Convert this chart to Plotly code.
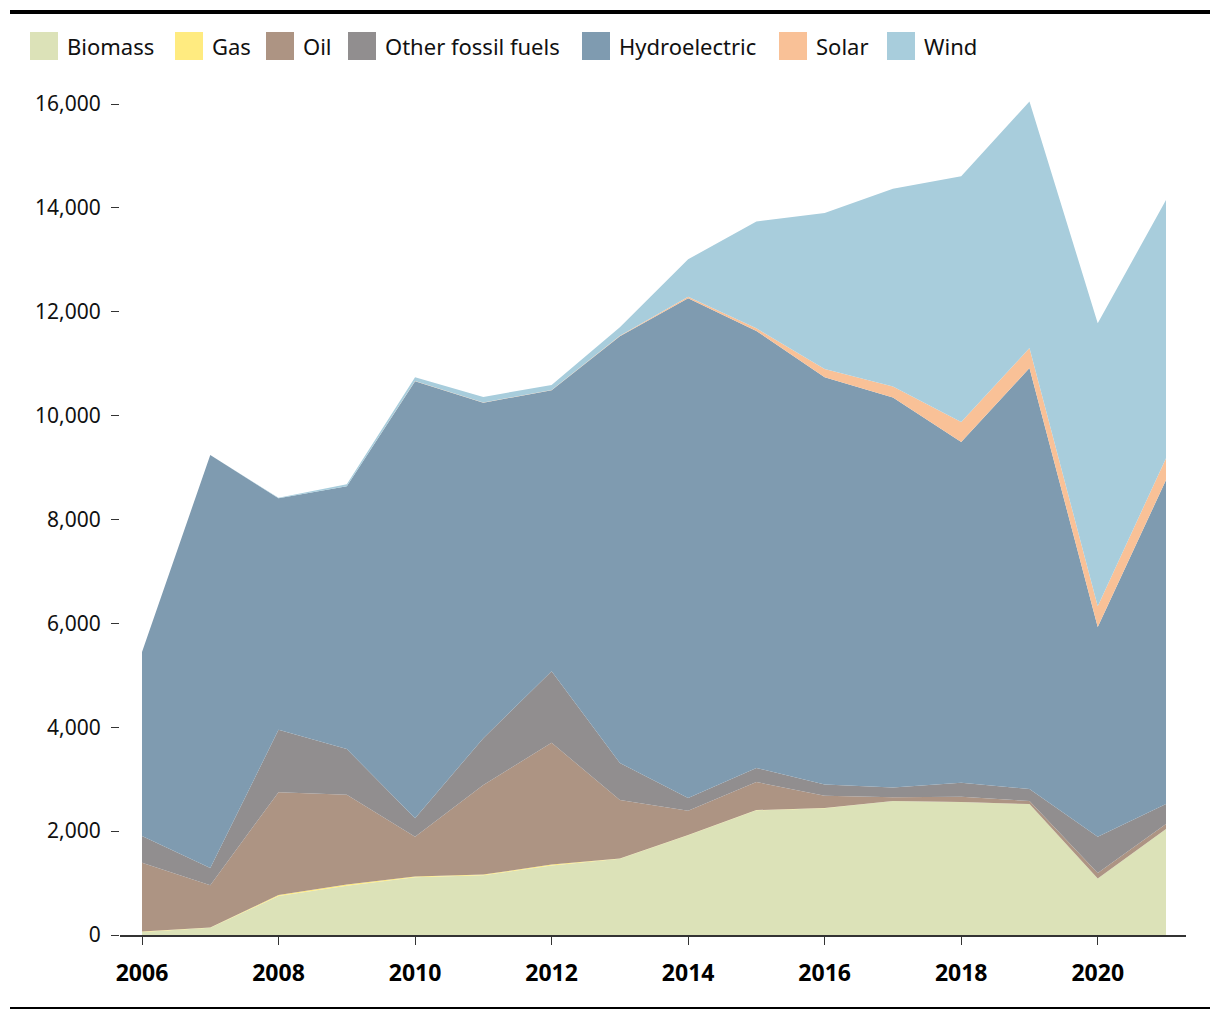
import plotly.graph_objects as go

years = list(range(2006, 2022))

biomass = [60, 140, 750, 950, 1110, 1150, 1340, 1470, 1920, 2400, 2440, 2580, 2560, 2520, 1090, 2040]
gas = [5, 5, 20, 20, 15, 15, 15, 5, 5, 5, 5, 0, 0, 0, 0, 0]
oil = [1325, 815, 1980, 1730, 765, 1725, 2345, 1125, 465, 540, 235, 70, 100, 60, 105, 95]
other_fossil = [515, 330, 1200, 880, 360, 900, 1380, 710, 250, 270, 220, 190, 270, 230, 695, 385]
hydro = [3545, 7950, 4460, 5060, 8410, 6460, 5410, 8220, 9620, 8415, 7840, 7510, 6560, 8105, 4040, 6240]
solar = [0, 0, 0, 0, 5, 5, 5, 10, 30, 50, 160, 210, 385, 385, 400, 420]
wind = [0, 0, 10, 40, 75, 105, 95, 160, 720, 2060, 3000, 3810, 4735, 4750, 5450, 4970]

series_names = ["Biomass", "Gas", "Oil", "Other fossil fuels", "Hydroelectric", "Solar", "Wind"]
series_values = [biomass, gas, oil, other_fossil, hydro, solar, wind]
colors = ["#dce2b8", "#ffeb80", "#ad9483", "#918e8f", "#7f9bb0", "#f9c197", "#a8cddc"]

y_tickvals = list(range(0, 16001, 2000))
x_tickvals = list(range(2006, 2021, 2))

FONT = "Noto Sans"

fig = go.Figure()
for name, vals, col in zip(series_names, series_values, colors):
    fig.add_trace(go.Scatter(
        x=years, y=vals, name=name, mode="lines", stackgroup="one",
        line=dict(width=0, color=col), fillcolor=col, showlegend=False,
        hovertemplate="%{x}: %{y:,}<extra>" + name + "</extra>",
    ))

# Plot-area geometry (pixels)
W, H = 1220, 1020
L, R, T, B = 120, 34, 94, 85
pw, ph = W - L - R, H - T - B

def px_x(x):
    return (x - L) / pw

def px_y(y):
    return (H - B - y) / ph

shapes = [
    dict(type="line", xref="paper", yref="paper", x0=px_x(10), x1=px_x(1210),
         y0=px_y(12), y1=px_y(12), line=dict(color="black", width=4)),
    dict(type="line", xref="paper", yref="paper", x0=px_x(10), x1=px_x(1210),
         y0=px_y(1008), y1=px_y(1008), line=dict(color="black", width=2)),
]
annotations = []
legend_x = [30, 175, 266, 348, 582, 779, 887]
for name, col, lx in zip(series_names, colors, legend_x):
    shapes.append(dict(type="rect", xref="paper", yref="paper",
                       x0=px_x(lx), x1=px_x(lx + 28), y0=px_y(60), y1=px_y(32),
                       fillcolor=col, line=dict(width=0)))
    annotations.append(dict(xref="paper", yref="paper", x=px_x(lx + 35), y=px_y(46),
                            text=name, showarrow=False, xanchor="left", yanchor="middle",
                            font=dict(family=FONT, size=22, color="#111")))

fig.update_layout(
    width=W, height=H,
    margin=dict(l=L, r=R, t=T, b=B, pad=0),
    paper_bgcolor="white", plot_bgcolor="white",
    font=dict(family=FONT, color="#111"),
    shapes=shapes, annotations=annotations,
    showlegend=False,
)
fig.update_xaxes(
    range=[2006 - 22 / 68.27, 2021 + 20 / 68.27],
    tickvals=x_tickvals, ticktext=[str(v) for v in x_tickvals],
    showgrid=False, zeroline=False,
    showline=True, linecolor="#333", linewidth=2,
    ticks="outside", ticklen=8, tickcolor="#333", tickwidth=1,
    tickfont=dict(family=FONT, size=23, color="#000", weight="bold"),
    ticklabelstandoff=8,
)
fig.update_yaxes(
    range=[0, 841 / ((935 - 104) / 16000)],
    tickvals=y_tickvals, tickformat=",",
    showgrid=False, zeroline=False, showline=False,
    ticks="outside", ticklen=8, tickcolor="#333", tickwidth=1,
    tickfont=dict(family=FONT, size=21, color="#111"),
    ticklabelstandoff=6,
)

fig.write_html("out.html")
